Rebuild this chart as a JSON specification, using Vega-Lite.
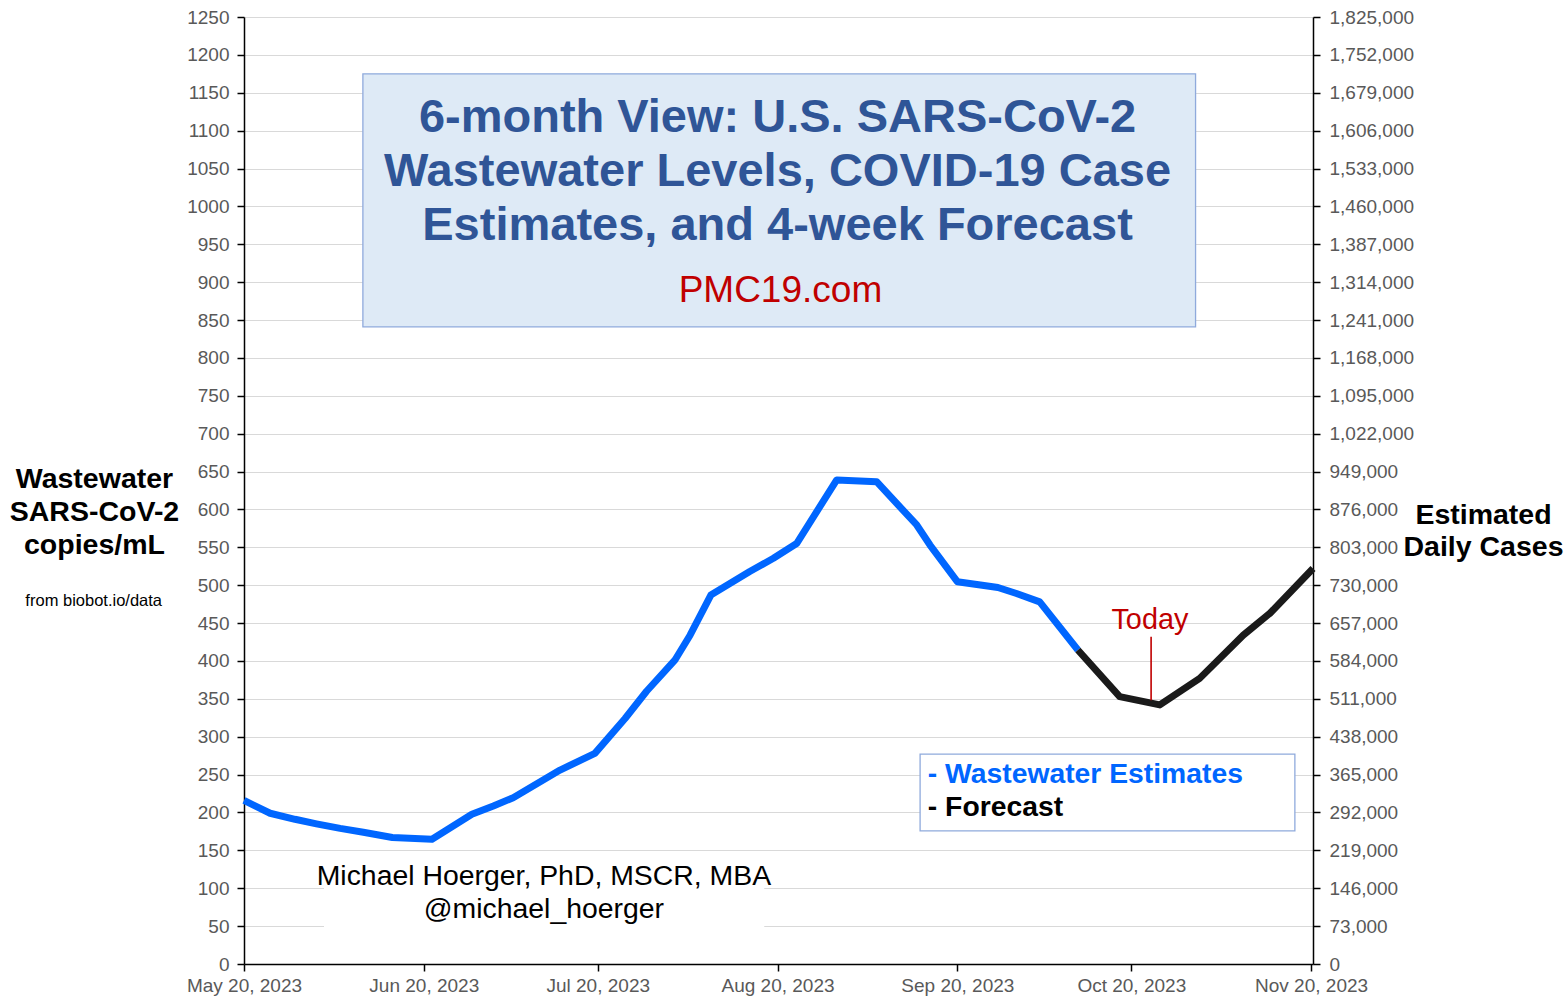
{
  "$schema": "https://vega.github.io/schema/vega-lite/v6.json",
  "width": 1069,
  "height": 947,
  "autosize": {"type": "none"},
  "padding": {"left": 244, "top": 17, "right": 255, "bottom": 34},
  "background": "white",
  "config": {"font": "Liberation Sans", "view": {"stroke": null}},
  "layer": [
    {
      "data": {"values": [{}]},
      "mark": {"type": "rect", "fill": "#DEEAF6", "stroke": "#8FAADC", "strokeWidth": 1.3},
      "encoding": {
        "x": {"datum": {"year": 2023, "month": 6, "date": 9, "hours": 12}, "type": "temporal"},
        "x2": {"datum": {"year": 2023, "month": 10, "date": 31, "hours": 2}},
        "y": {"datum": 1175, "type": "quantitative", "scale": {"domain": [0, 1250], "nice": false}, "axis": null},
        "y2": {"datum": 841}
      }
    },
    {
      "data": {"values": [{}]},
      "mark": {"type": "text", "text": ["6-month View: U.S. SARS-CoV-2", "Wastewater Levels, COVID-19 Case", "Estimates, and 4-week Forecast"], "fontSize": 47, "fontWeight": "bold", "color": "#2F5597", "lineHeight": 54, "align": "center", "baseline": "middle"},
      "encoding": {
        "x": {"datum": {"year": 2023, "month": 8, "date": 20}, "type": "temporal"},
        "y": {"datum": 1116.7, "type": "quantitative", "scale": {"domain": [0, 1250], "nice": false}, "axis": null}
      }
    },
    {
      "data": {"values": [{}]},
      "mark": {"type": "text", "text": "PMC19.com", "fontSize": 37, "color": "#C00000", "align": "center", "baseline": "middle"},
      "encoding": {
        "x": {"datum": {"year": 2023, "month": 8, "date": 20, "hours": 12}, "type": "temporal"},
        "y": {"datum": 888, "type": "quantitative", "scale": {"domain": [0, 1250], "nice": false}, "axis": null}
      }
    },
    {
      "data": {"values": [{}]},
      "mark": {"type": "rect", "fill": "white"},
      "encoding": {
        "x": {"datum": {"year": 2023, "month": 6, "date": 2, "hours": 19}, "type": "temporal"},
        "x2": {"datum": {"year": 2023, "month": 8, "date": 17, "hours": 17}},
        "y": {"datum": 36, "type": "quantitative", "scale": {"domain": [0, 1250], "nice": false}, "axis": null},
        "y2": {"datum": 140}
      }
    },
    {
      "data": {"values": [{}]},
      "mark": {"type": "text", "text": ["Michael Hoerger, PhD, MSCR, MBA", "@michael_hoerger"], "fontSize": 28.4, "color": "black", "lineHeight": 33, "align": "center", "baseline": "middle"},
      "encoding": {
        "x": {"datum": {"year": 2023, "month": 7, "date": 10, "hours": 17}, "type": "temporal"},
        "y": {"datum": 116.2, "type": "quantitative", "scale": {"domain": [0, 1250], "nice": false}, "axis": null}
      }
    },
    {
      "data": {"values": [{}]},
      "mark": {"type": "text", "text": "from biobot.io/data", "fontSize": 16.5, "color": "black", "align": "center", "baseline": "middle"},
      "encoding": {
        "x": {"datum": {"year": 2023, "month": 4, "date": 24, "hours": 2}, "type": "temporal"},
        "y": {"datum": 479, "type": "quantitative", "scale": {"domain": [0, 1250], "nice": false}, "axis": null}
      }
    },
    {
      "data": {"values": [{}]},
      "mark": {"type": "rect", "fill": "white", "stroke": "#8FAADC", "strokeWidth": 1.3},
      "encoding": {
        "x": {"datum": {"year": 2023, "month": 9, "date": 13, "hours": 14}, "type": "temporal"},
        "x2": {"datum": {"year": 2023, "month": 11, "date": 17, "hours": 5}},
        "y": {"datum": 277, "type": "quantitative", "scale": {"domain": [0, 1250], "nice": false}, "axis": null},
        "y2": {"datum": 175.6}
      }
    },
    {
      "data": {"values": [{}]},
      "mark": {"type": "text", "text": "- Wastewater Estimates", "fontSize": 28.3, "fontWeight": "bold", "color": "#0066FF", "align": "left", "baseline": "middle"},
      "encoding": {
        "x": {"datum": {"year": 2023, "month": 9, "date": 14, "hours": 22}, "type": "temporal"},
        "y": {"datum": 249.5, "type": "quantitative", "scale": {"domain": [0, 1250], "nice": false}, "axis": null}
      }
    },
    {
      "data": {"values": [{}]},
      "mark": {"type": "text", "text": "- Forecast", "fontSize": 28.3, "fontWeight": "bold", "color": "black", "align": "left", "baseline": "middle"},
      "encoding": {
        "x": {"datum": {"year": 2023, "month": 9, "date": 14, "hours": 22}, "type": "temporal"},
        "y": {"datum": 206, "type": "quantitative", "scale": {"domain": [0, 1250], "nice": false}, "axis": null}
      }
    },
    {
      "data": {
        "values": [
          {"date": "2023-05-20T00:00", "value": 216, "series": "Wastewater Estimates"},
          {"date": "2023-05-24T12:00", "value": 199, "series": "Wastewater Estimates"},
          {"date": "2023-05-28T19:00", "value": 191, "series": "Wastewater Estimates"},
          {"date": "2023-06-01T12:00", "value": 185, "series": "Wastewater Estimates"},
          {"date": "2023-06-05T14:00", "value": 179, "series": "Wastewater Estimates"},
          {"date": "2023-06-09T14:00", "value": 174, "series": "Wastewater Estimates"},
          {"date": "2023-06-14T14:00", "value": 167, "series": "Wastewater Estimates"},
          {"date": "2023-06-21T10:00", "value": 164.6, "series": "Wastewater Estimates"},
          {"date": "2023-06-28T07:00", "value": 197.6, "series": "Wastewater Estimates"},
          {"date": "2023-07-02T00:00", "value": 208.6, "series": "Wastewater Estimates"},
          {"date": "2023-07-05T10:00", "value": 219.5, "series": "Wastewater Estimates"},
          {"date": "2023-07-13T12:00", "value": 256, "series": "Wastewater Estimates"},
          {"date": "2023-07-19T12:00", "value": 278, "series": "Wastewater Estimates"},
          {"date": "2023-07-24T17:00", "value": 324, "series": "Wastewater Estimates"},
          {"date": "2023-07-28T10:00", "value": 360, "series": "Wastewater Estimates"},
          {"date": "2023-08-02T07:00", "value": 401, "series": "Wastewater Estimates"},
          {"date": "2023-08-04T22:00", "value": 434, "series": "Wastewater Estimates"},
          {"date": "2023-08-08T12:00", "value": 487, "series": "Wastewater Estimates"},
          {"date": "2023-08-15T05:00", "value": 518, "series": "Wastewater Estimates"},
          {"date": "2023-08-19T07:00", "value": 535.5, "series": "Wastewater Estimates"},
          {"date": "2023-08-23T07:00", "value": 555, "series": "Wastewater Estimates"},
          {"date": "2023-08-30T05:00", "value": 639, "series": "Wastewater Estimates"},
          {"date": "2023-09-06T02:00", "value": 636.6, "series": "Wastewater Estimates"},
          {"date": "2023-09-13T00:00", "value": 579.5, "series": "Wastewater Estimates"},
          {"date": "2023-09-15T07:00", "value": 553, "series": "Wastewater Estimates"},
          {"date": "2023-09-20T00:00", "value": 504.6, "series": "Wastewater Estimates"},
          {"date": "2023-09-24T07:00", "value": 500, "series": "Wastewater Estimates"},
          {"date": "2023-09-27T00:00", "value": 497, "series": "Wastewater Estimates"},
          {"date": "2023-09-30T05:00", "value": 489, "series": "Wastewater Estimates"},
          {"date": "2023-10-04T05:00", "value": 478, "series": "Wastewater Estimates"},
          {"date": "2023-10-10T19:00", "value": 414.5, "series": "Wastewater Estimates"},
          {"date": "2023-10-10T19:00", "value": 414.5, "series": "Forecast"},
          {"date": "2023-10-18T00:00", "value": 353, "series": "Forecast"},
          {"date": "2023-10-24T22:00", "value": 342, "series": "Forecast"},
          {"date": "2023-10-31T19:00", "value": 377, "series": "Forecast"},
          {"date": "2023-11-08T07:00", "value": 434, "series": "Forecast"},
          {"date": "2023-11-12T22:00", "value": 463, "series": "Forecast"},
          {"date": "2023-11-20T08:00", "value": 522, "series": "Forecast"}
        ]
      },
      "mark": {"type": "line", "strokeWidth": 7, "strokeJoin": "round", "strokeCap": "butt"},
      "encoding": {
        "x": {
          "field": "date",
          "type": "temporal",
          "scale": {"domain": [{"year": 2023, "month": 5, "date": 20}, {"year": 2023, "month": 11, "date": 20, "hours": 8}], "nice": false},
          "axis": {
            "title": null,
            "values": [
              {"year": 2023, "month": 5, "date": 20},
              {"year": 2023, "month": 6, "date": 20},
              {"year": 2023, "month": 7, "date": 20},
              {"year": 2023, "month": 8, "date": 20},
              {"year": 2023, "month": 9, "date": 20},
              {"year": 2023, "month": 10, "date": 20},
              {"year": 2023, "month": 11, "date": 20}
            ],
            "format": "%b %d, %Y",
            "grid": false,
            "labelFontSize": 19,
            "labelColor": "#595959",
            "labelPadding": 5,
            "labelFlush": false,
            "labelOverlap": false,
            "tickColor": "black",
            "tickSize": 7,
            "tickWidth": 1.5,
            "domainColor": "black",
            "domainWidth": 1.5
          }
        },
        "y": {
          "field": "value",
          "type": "quantitative",
          "scale": {"domain": [0, 1250], "nice": false, "zero": true},
          "axis": {
            "orient": "left",
            "values": [0, 50, 100, 150, 200, 250, 300, 350, 400, 450, 500, 550, 600, 650, 700, 750, 800, 850, 900, 950, 1000, 1050, 1100, 1150, 1200, 1250],
            "format": "d",
            "grid": true,
            "gridColor": "#D9D9D9",
            "gridWidth": 1,
            "labelFontSize": 19,
            "labelColor": "#595959",
            "labelPadding": 8,
            "labelOverlap": false,
            "labelFlush": false,
            "tickColor": "black",
            "tickSize": 7,
            "tickWidth": 1.5,
            "domainColor": "black",
            "domainWidth": 1.5,
            "title": ["Wastewater", "SARS-CoV-2", "copies/mL"],
            "titleAngle": 0,
            "titleX": -150,
            "titleY": 461,
            "titleAlign": "center",
            "titleBaseline": "middle",
            "titleFontSize": 28.5,
            "titleFontWeight": "bold",
            "titleColor": "black",
            "titleLineHeight": 33
          }
        },
        "color": {
          "field": "series",
          "type": "nominal",
          "scale": {"domain": ["Wastewater Estimates", "Forecast"], "range": ["#0066FF", "#1A1A1A"]},
          "legend": null
        }
      }
    },
    {
      "data": {"values": [{}]},
      "mark": {"type": "rule", "color": "#C00000", "strokeWidth": 1.6},
      "encoding": {
        "x": {"datum": {"year": 2023, "month": 10, "date": 23, "hours": 10}, "type": "temporal"},
        "y": {"datum": 348, "type": "quantitative", "scale": {"domain": [0, 1250], "nice": false}, "axis": null},
        "y2": {"datum": 432}
      }
    },
    {
      "data": {"values": [{}]},
      "mark": {"type": "text", "text": "Today", "fontSize": 28.8, "color": "#C00000", "align": "center", "baseline": "middle"},
      "encoding": {
        "x": {"datum": {"year": 2023, "month": 10, "date": 23, "hours": 5}, "type": "temporal"},
        "y": {"datum": 454, "type": "quantitative", "scale": {"domain": [0, 1250], "nice": false}, "axis": null}
      }
    },
    {
      "data": {"values": [{}]},
      "mark": {"type": "rule", "opacity": 0},
      "encoding": {
        "y": {
          "datum": 0,
          "type": "quantitative",
          "scale": {"domain": [0, 1825000], "nice": false},
          "axis": {
            "orient": "right",
            "values": [0, 73000, 146000, 219000, 292000, 365000, 438000, 511000, 584000, 657000, 730000, 803000, 876000, 949000, 1022000, 1095000, 1168000, 1241000, 1314000, 1387000, 1460000, 1533000, 1606000, 1679000, 1752000, 1825000],
            "format": ",d",
            "grid": false,
            "labelFontSize": 19,
            "labelColor": "#595959",
            "labelPadding": 9,
            "labelOverlap": false,
            "labelFlush": false,
            "tickColor": "black",
            "tickSize": 7,
            "tickWidth": 1.5,
            "domainColor": "black",
            "domainWidth": 1.5,
            "title": ["Estimated", "Daily Cases"],
            "titleAngle": 0,
            "titleX": 170,
            "titleY": 497,
            "titleAlign": "center",
            "titleBaseline": "middle",
            "titleFontSize": 28.5,
            "titleFontWeight": "bold",
            "titleColor": "black",
            "titleLineHeight": 32
          }
        }
      }
    }
  ],
  "resolve": {"scale": {"y": "independent"}}
}
